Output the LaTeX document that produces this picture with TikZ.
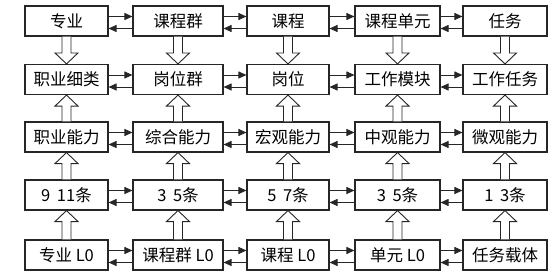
\documentclass[tikz,border=0pt]{standalone}
\usepackage{fontspec}
\setmainfont{Noto Sans CJK SC}
\usetikzlibrary{calc,arrows.meta}
\tikzset{
  box/.style={draw=black!85,line width=1.1pt,minimum height=30pt,inner sep=0pt,font=\fontsize{16.5}{18}\selectfont},
  harr/.style={draw=black!85,line width=0.9pt,-{Triangle[length=8pt,width=7pt]}},
  blk/.style={draw=black!85,line width=0.9pt,fill=white,line join=miter},
}
\newcommand\blockarrow[2]{%
  \draw[blk] let \p1=(#1), \p2=(#2), \p3=($(#2)!11pt!(#1)$) in
    (\x1-4.5pt,\y1) -- (\x1-4.5pt,\y3) -- (\x1-11.5pt,\y3) -- (\x1,\y2)
    -- (\x1+11.5pt,\y3) -- (\x1+4.5pt,\y3) -- (\x1+4.5pt,\y1);}
\newcommand\gp{\hspace{0.4em}}
\begin{document}
\begin{tikzpicture}[x=1pt,y=1pt]
\useasboundingbox (0,0) rectangle (554,274);
% column centres and widths
\def\cA{66.5}\def\cB{178}\def\cC{288}\def\cD{397.5}\def\cE{505}
\def\wA{83}\def\wB{90}\def\wC{82}\def\wD{85}\def\wE{84}
\foreach \r/\ta/\tb/\tc/\td/\te [count=\i] in {
  253/专业/课程群/课程/课程单元/任务,
  194.5/职业细类/岗位群/岗位/工作模块/工作任务,
  137/职业能力/综合能力/宏观能力/中观能力/微观能力,
  79/9\gp11条/3\gp5条/5\gp7条/3\gp5条/1\gp3条,
  19/专业 L0/课程群 L0/课程 L0/单元 L0/任务载体}{
  \node[box,minimum width=\wA pt] (n\i-1) at (\cA,\r) {\ta};
  \node[box,minimum width=\wB pt] (n\i-2) at (\cB,\r) {\tb};
  \node[box,minimum width=\wC pt] (n\i-3) at (\cC,\r) {\tc};
  \node[box,minimum width=\wD pt] (n\i-4) at (\cD,\r) {\td};
  \node[box,minimum width=\wE pt] (n\i-5) at (\cE,\r) {\te};
}
% horizontal double arrows
\foreach \i in {1,...,5}{
  \foreach \a/\b in {1/2,2/3,3/4,4/5}{
    \draw[harr] ([yshift=4.5pt]n\i-\a.east) -- ([yshift=4.5pt]n\i-\b.west);
    \draw[harr] ([yshift=-7.5pt]n\i-\b.west) -- ([yshift=-7.5pt]n\i-\a.east);
  }
}
% vertical block arrows
\foreach \c in {1,...,5}{
  \blockarrow{n1-\c.south}{n2-\c.north}
  \blockarrow{n3-\c.north}{n2-\c.south}
  \blockarrow{n4-\c.north}{n3-\c.south}
  \blockarrow{n5-\c.north}{n4-\c.south}
}
\end{tikzpicture}
\end{document}
